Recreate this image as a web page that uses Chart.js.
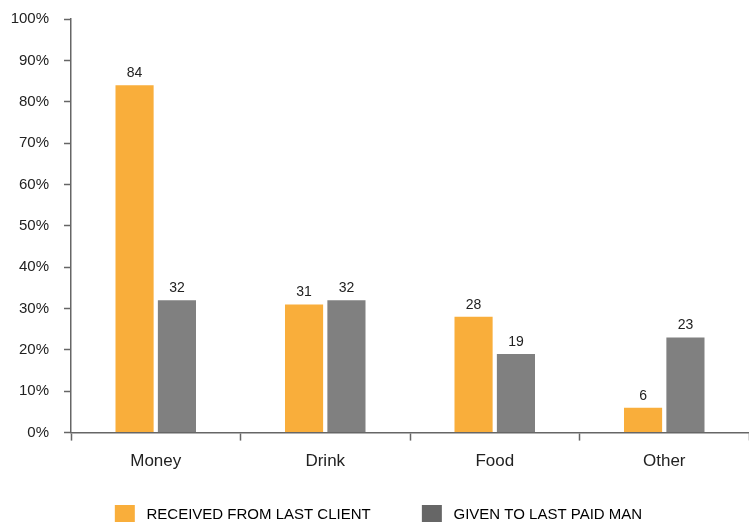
<!DOCTYPE html>
<html>
<head>
<meta charset="utf-8">
<script src="https://cdn.jsdelivr.net/npm/chart.js@4"></script>
<style>
    html, body { margin: 0; padding: 0; background: #fff; }
    #wrap { width: 749px; height: 522px; }
</style>
</head>
<body>
<div id="wrap"><canvas id="giftChart"></canvas></div>
<script>
// Data
const categories = ['Money', 'Drink', 'Food', 'Other'];
const receivedValues = [84, 31, 28, 6];
const givenValues = [32, 32, 19, 23];
const seriesNames = ['RECEIVED FROM LAST CLIENT', 'GIVEN TO LAST PAID MAN'];

const fontFamily = "'Liberation Sans', Arial, sans-serif";

// Writes the value above each bar
const valueLabels = {
    id: 'valueLabels',
    afterDatasetsDraw(chart) {
        const ctx = chart.ctx;
        ctx.save();
        ctx.font = '14px ' + fontFamily;
        ctx.fillStyle = '#222';
        ctx.textAlign = 'center';
        ctx.textBaseline = 'bottom';
        chart.data.datasets.forEach((ds, i) => {
            chart.getDatasetMeta(i).data.forEach((bar, j) => {
                ctx.fillText(ds.data[j], bar.x, bar.y - 5);
            });
        });
        ctx.restore();
    }
};

new Chart(document.getElementById('giftChart'), {
    type: 'bar',
    data: {
        labels: categories,
        datasets: [
            {
                label: seriesNames[0],
                data: receivedValues,
                backgroundColor: '#f9ae3b',
                categoryPercentage: 0.5,
                barPercentage: 0.9
            },
            {
                label: seriesNames[1],
                data: givenValues,
                backgroundColor: '#808080',
                categoryPercentage: 0.5,
                barPercentage: 0.9
            }
        ]
    },
    options: {
        responsive: true,
        maintainAspectRatio: false,
        animation: false,
        layout: { padding: { top: 19, right: 0, left: 8, bottom: -13 } },
        scales: {
            x: {
                grid: {
                    drawOnChartArea: false,
                    drawTicks: true,
                    tickLength: 8,
                    tickColor: '#666',
                    tickWidth: 1.5
                },
                border: { display: true, color: '#666', width: 1.5 },
                ticks: {
                    color: '#222',
                    padding: 11,
                    font: { family: fontFamily, size: 17 }
                }
            },
            y: {
                min: 0,
                max: 100,
                // fixed axis width and no extra label overflow, so the axis sits where the original has it
                afterFit: function(scale) {
                    scale.width = 63;
                    scale.paddingTop = 0;
                    scale.paddingBottom = 0;
                },
                grid: {
                    drawOnChartArea: false,
                    drawTicks: true,
                    tickLength: 7,
                    tickColor: '#666',
                    tickWidth: 1.5
                },
                border: { display: true, color: '#666', width: 1.5 },
                ticks: {
                    stepSize: 10,
                    color: '#222',
                    padding: 15,
                    font: { family: fontFamily, size: 15 },
                    callback: function(value) {
                        return value + '%';
                    }
                }
            }
        },
        plugins: {
            legend: {
                position: 'bottom',
                labels: {
                    boxWidth: 20,
                    boxHeight: 20,
                    padding: 22,
                    color: '#222',
                    font: { family: fontFamily, size: 15 },
                    generateLabels: function(chart) {
                        const fills = ['#f9ae3b', '#666666'];
                        return chart.data.datasets.map((ds, i) => ({
                            // a bit more room around the entries, like the original
                            text: '\u00a0' + ds.label + (i === 0 ? '\u00a0'.repeat(7) : ''),
                            fillStyle: fills[i],
                            strokeStyle: fills[i],
                            lineWidth: 0,
                            datasetIndex: i
                        }));
                    }
                }
            },
            tooltip: { enabled: false }
        }
    },
    plugins: [valueLabels]
});
</script>
</body>
</html>
